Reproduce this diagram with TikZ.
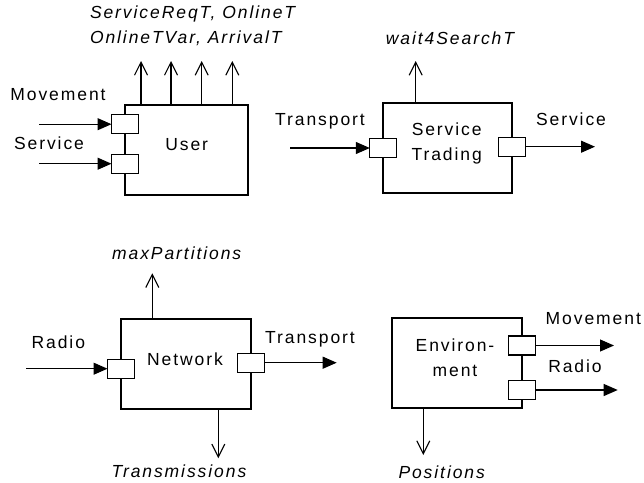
\documentclass[tikz,border=0pt]{standalone}
\usepackage{fontspec}
\setmainfont{Liberation Sans}[LetterSpace=11]
\usetikzlibrary{arrows.meta}
\begin{document}
\begin{tikzpicture}[x=1pt,y=-1pt,
  every node/.style={inner sep=0pt,outer sep=0pt},
  txt/.style={font=\fontsize{17.5}{25}\selectfont,anchor=base},
  itx/.style={font=\fontsize{17.5}{25}\selectfont\itshape,anchor=base},
  block/.style={draw,line width=1.8pt,minimum height=90pt},
  port/.style={draw,fill=white,line width=1.1pt,minimum width=27pt,minimum height=19pt},
  inflow/.style={line width=1.1pt,-{Triangle[width=12pt,length=14pt]}},
  param/.style={line width=1.1pt,-{Straight Barb[width=13pt,length=13pt,line width=1.1pt]}}]
\useasboundingbox (0,0) rectangle (644,482);

% ---- User ----
\node[block,minimum width=122.7pt] (user) at (186.4,150) {};
\node[txt] (usert) at (186.7,150.3) {User};
\node[port] (up1) at (125,124.2) {};
\node[port] (up2) at (125,163.7) {};
\coordinate (uin1) at (39,124.2);
\coordinate (uin2) at (39,163.7);
\draw[inflow] (uin1) -- (up1);
\draw[inflow] (uin2) -- (up2);
\node[txt] (umov) at (58,100) {Movement};
\node[txt] (userv) at (49,149.5) {Service};
\foreach \i/\x in {1/141,2/171,3/201.7,4/232.3}{
  \coordinate (uo\i) at (\x,61);
  \draw[param] (user.north -| uo\i) -- (uo\i);
}
\node[font=\fontsize{17.5}{25}\selectfont\itshape,align=left,anchor=north west] (uparams) at (90,6)
  {ServiceReqT, OnlineT\\OnlineTVar, ArrivalT};

% ---- Service Trading ----
\node[block,minimum width=129pt] (st) at (447.8,148.3) {};
\node[font=\fontsize{17.5}{25}\selectfont,align=center] (stt) at (446.7,143) {Service\\Trading};
\node[port] (stin) at (383.3,148) {};
\node[port] (stout) at (512.3,146.7) {};
\coordinate (stsrc) at (290,148);
\coordinate (stdst) at (595,146.7);
\draw[inflow] (stsrc) -- (stin);
\draw[inflow] (stout) -- (stdst);
\node[txt] (sttr) at (320,125) {Transport};
\node[txt] (stsv) at (571,125) {Service};
\coordinate (sto) at (415.7,61);
\draw[param] (st.north -| sto) -- (sto);
\node[itx] (stw) at (450,44) {wait4SearchT};

% ---- Network ----
\node[block,minimum width=129.7pt] (net) at (185.9,364.3) {};
\node[txt] (nett) at (185,365.3) {Network};
\node[port] (nin) at (121,368.7) {};
\node[port] (nout) at (250.7,362.7) {};
\coordinate (nsrc) at (26,368.7);
\coordinate (ndst) at (336.7,362.7);
\draw[inflow] (nsrc) -- (nin);
\draw[inflow] (nout) -- (ndst);
\node[txt] (nrad) at (58.3,348.6) {Radio};
\node[txt] (ntr) at (310,343.3) {Transport};
\coordinate (nup) at (152.3,273.3);
\draw[param] (net.north -| nup) -- (nup);
\node[itx] (nmax) at (176.7,259.6) {maxPartitions};
\coordinate (ndn) at (218.3,458.3);
\draw[param] (net.south -| ndn) -- (ndn);
\node[itx] (ntrans) at (179,477) {Transmissions};

% ---- Environment ----
\node[block,minimum width=130pt] (env) at (456.7,362.7) {};
\node[font=\fontsize{17.5}{25}\selectfont,align=center] (envt) at (455,357.5) {Environ-\\ment};
\node[port] (ep1) at (521.7,345.5) {};
\node[port] (ep2) at (521.7,390) {};
\coordinate (edst1) at (614,345.5);
\coordinate (edst2) at (617.7,390);
\draw[inflow] (ep1) -- (edst1);
\draw[inflow] (ep2) -- (edst2);
\node[txt] (emov) at (593.3,324.6) {Movement};
\node[txt] (erad) at (575,372.3) {Radio};
\coordinate (edn) at (423.3,455);
\draw[param] (env.south -| edn) -- (edn);
\node[itx] (epos) at (441.7,478.5) {Positions};
\end{tikzpicture}
\end{document}
